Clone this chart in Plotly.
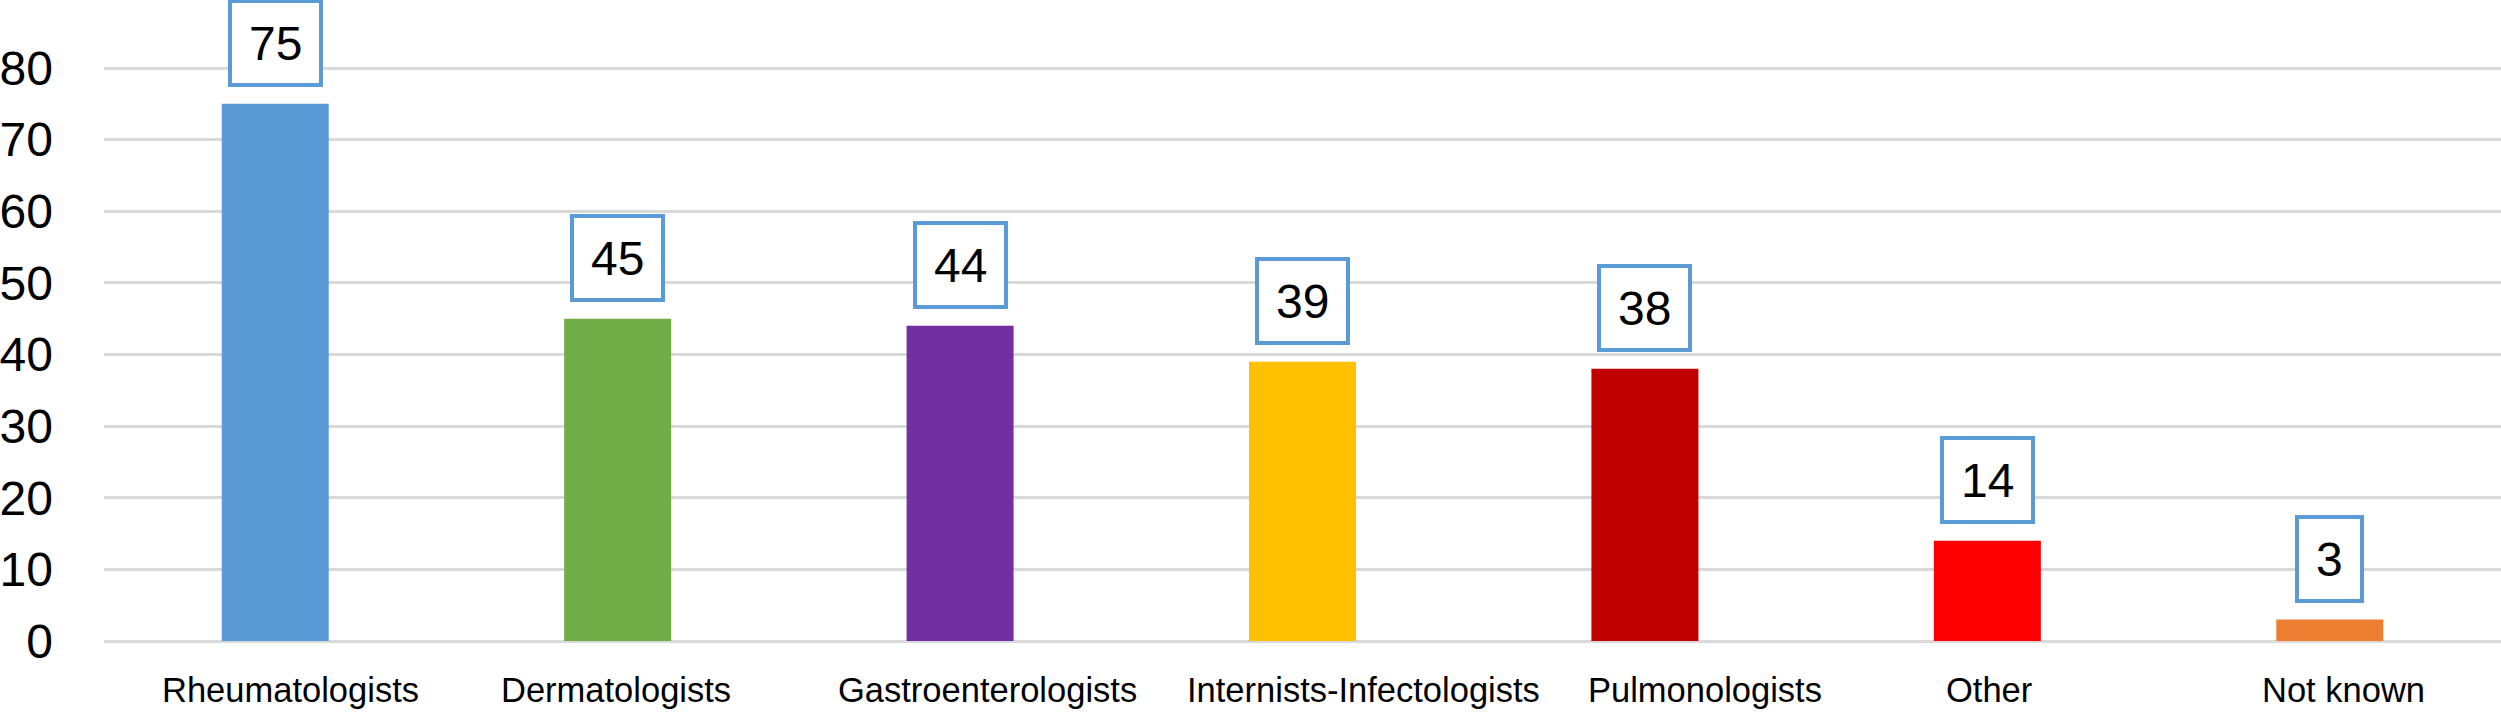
import plotly.graph_objects as go

categories = ["Rheumatologists", "Dermatologists", "Gastroenterologists",
              "Internists-Infectologists", "Pulmonologists", "Other", "Not known"]
values = [75, 45, 44, 39, 38, 14, 3]
colors = ["#5B9BD5", "#70AD47", "#7030A0", "#FFC000", "#C00000", "#FF0000", "#ED7D31"]
y_ticks = [0, 10, 20, 30, 40, 50, 60, 70, 80]

# horizontal nudges (px) of the category labels, as placed in the original
label_nudge = [15, -2, 27, 61, 60, 2, 14]

FONT = "Liberation Sans, Arial, Helvetica, sans-serif"

fig = go.Figure()
fig.add_trace(go.Bar(
    x=categories, y=values,
    marker=dict(color=colors, line=dict(width=0)),
    hoverinfo="x+y",
))

# value boxes
for c, v in zip(categories, values):
    fig.add_annotation(
        x=c, y=v, xref="x", yref="y",
        text=str(v), showarrow=False,
        yanchor="bottom", xanchor="center", yshift=17,
        font=dict(family=FONT, size=48, color="#000000"),
        bgcolor="#FFFFFF", bordercolor="#5B9BD5",
        borderwidth=4, borderpad=17, height=46,
    )

# category labels
for c, dx in zip(categories, label_nudge):
    fig.add_annotation(
        x=c, y=0, xref="x", yref="y",
        text=c, showarrow=False,
        yanchor="top", xanchor="center", yshift=-30, xshift=dx,
        font=dict(family=FONT, size=34.5, color="#000000"),
        borderpad=0, borderwidth=0,
    )

fig.update_layout(
    width=2501, height=715,
    margin=dict(l=104, r=0, t=64, b=74, autoexpand=False),
    paper_bgcolor="#FFFFFF", plot_bgcolor="#FFFFFF",
    bargap=0.6875,
    showlegend=False,
    font=dict(family=FONT, color="#000000"),
    xaxis=dict(
        type="category",
        showgrid=False, showline=False, zeroline=False,
        showticklabels=False, ticks="",
    ),
    yaxis=dict(
        range=[0, 80.56],
        tickvals=y_ticks, ticktext=[str(t) for t in y_ticks],
        showgrid=True, gridcolor="#D9D9D9", gridwidth=3,
        zeroline=True, zerolinecolor="#D9D9D9", zerolinewidth=3,
        showline=False, ticks="",
        tickfont=dict(family=FONT, size=48, color="#000000"),
        ticklabelstandoff=50,
    ),
)

fig.write_html("out.html", config={"displayModeBar": False},
               post_script="document.body.style.margin='0';")
